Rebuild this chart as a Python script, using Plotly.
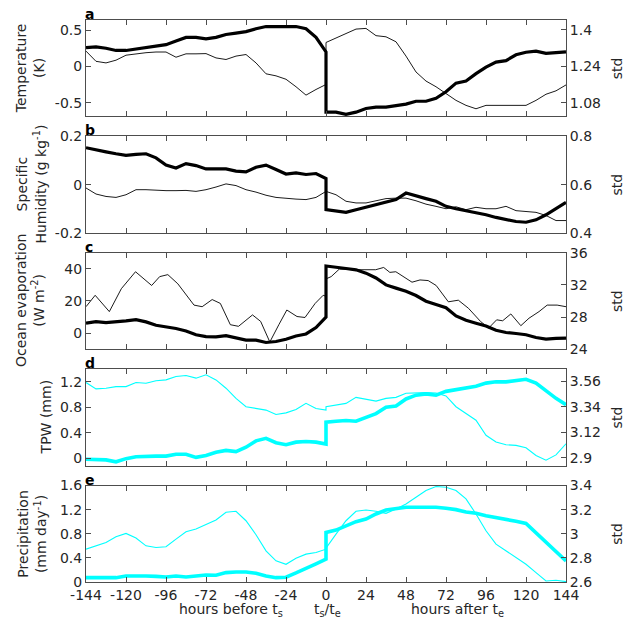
import plotly.graph_objects as go

# ---------------- data ----------------
hours_before = list(range(-144, 1, 6))
hours_after = list(range(0, 145, 6))
hours = hours_before + hours_after

x_tick_vals = [-144, -120, -96, -72, -48, -24, 0, 24, 48, 72, 96, 120, 144]
x_tick_text = ["-144", "-120", "-96", "-72", "-48", "-24", "0", "24", "48", "72", "96", "120", "144"]

# a: temperature
temp_mean = [0.26, 0.27, 0.25, 0.22, 0.22, 0.24, 0.25, 0.27, 0.30, 0.35, 0.40, 0.40, 0.38,
             0.40, 0.44, 0.46, 0.48, 0.52, 0.55, 0.55, 0.55, 0.55, 0.52, 0.40, 0.20] + \
            [-0.63, -0.63, -0.66, -0.63, -0.58, -0.56, -0.56, -0.54, -0.52, -0.48, -0.48, -0.44, -0.35,
             -0.23, -0.20, -0.10, -0.01, 0.06, 0.08, 0.16, 0.195, 0.21, 0.18, 0.19, 0.20]
temp_std = [1.307, 1.262, 1.255, 1.267, 1.289, 1.295, 1.300, 1.303, 1.303, 1.280, 1.295, 1.295, 1.296,
            1.277, 1.270, 1.285, 1.292, 1.255, 1.207, 1.198, 1.183, 1.150, 1.113, 1.138, 1.160] + \
           [1.345, 1.365, 1.382, 1.404, 1.407, 1.375, 1.370, 1.348, 1.285, 1.215, 1.175, 1.150, 1.120,
            1.090, 1.068, 1.053, 1.068, 1.068, 1.071, 1.068, 1.068, 1.090, 1.117, 1.132, 1.158]

# b: specific humidity
q_mean = [0.153, 0.146, 0.136, 0.128, 0.121, 0.125, 0.128, 0.111, 0.081, 0.069, 0.087, 0.079, 0.065,
          0.065, 0.065, 0.056, 0.053, 0.072, 0.081, 0.063, 0.044, 0.049, 0.042, 0.046, 0.025] + \
         [-0.104, -0.111, -0.115, -0.104, -0.094, -0.083, -0.072, -0.062, -0.035, -0.045, -0.058, -0.069, -0.090,
          -0.100, -0.108, -0.114, -0.125, -0.136, -0.146, -0.153, -0.156, -0.146, -0.125, -0.101, -0.074]
q_std = [0.586, 0.561, 0.551, 0.547, 0.558, 0.579, 0.579, 0.576, 0.575, 0.575, 0.576, 0.572, 0.579,
         0.590, 0.603, 0.596, 0.579, 0.569, 0.556, 0.547, 0.542, 0.540, 0.538, 0.547, 0.572] + \
        [0.572, 0.558, 0.531, 0.524, 0.524, 0.533, 0.542, 0.544, 0.544, 0.533, 0.519, 0.510, 0.500,
         0.508, 0.496, 0.506, 0.500, 0.500, 0.510, 0.492, 0.489, 0.485, 0.472, 0.451, 0.451]

# c: ocean evaporation
evap_mean = [6.2, 7.2, 6.6, 7.0, 7.6, 8.4, 7.0, 4.9, 4.1, 2.9, 1.4, -1.0, -2.1,
             -2.3, -1.6, -3.1, -4.3, -4.3, -5.8, -5.2, -3.8, -1.8, -0.5, 3.5, 10.0] + \
            [41.8, 40.8, 40.2, 39.4, 37.3, 34.3, 30.0, 28.0, 26.0, 23.4, 19.9, 17.8, 15.8,
             10.7, 8.0, 6.2, 4.5, 1.8, 0.4, -0.2, -1.0, -2.7, -3.7, -3.3, -3.1]
evap_std_hours = [-144, -138.5, -130, -122.8, -114.3, -104.6, -99.8, -94.9, -88.9, -79.2, -74.3, -68.3,
                  -63.4, -57.4, -52.5, -48.9, -44.1, -39.2, -33.7, -28.3, -23.5, -17.4, -12.6, -6.5,
                  -1.7, 0, 0, 3.1, 8, 17.7, 29.8, 34.6, 38.3, 41.9, 51.6, 56.4, 61.3, 66.1, 73.4,
                  79.4, 85.5, 92.7, 97.6, 102.4, 106, 110.9, 116.9, 121.8, 127.8, 132.7, 138.7, 144]
evap_std = [29.29, 30.71, 28.68, 31.53, 33.64, 31.93, 33.03, 33.28, 32.14, 29.49, 29.29, 30.18,
            29.70, 27.05, 26.85, 27.46, 28.27, 27.46, 24.90, 27.05, 28.88, 28.07, 27.95, 29.70,
            30.71, 30.59, 32.75, 33.03, 33.97, 33.89, 33.89, 34.17, 33.56, 33.64, 32.34, 32.62,
            32.54, 31.93, 29.90, 30.10, 29.09, 27.46, 26.64, 27.66, 27.54, 28.39, 26.93, 27.86,
            28.68, 29.49, 29.49, 29.29]

# d: total precipitable water
tpw_mean = [-0.02, -0.02, -0.03, -0.06, -0.01, 0.02, 0.03, 0.03, 0.03, 0.06, 0.06, 0.01, 0.04,
            0.09, 0.12, 0.10, 0.17, 0.27, 0.31, 0.24, 0.21, 0.25, 0.26, 0.25, 0.22] + \
           [0.565, 0.58, 0.59, 0.58, 0.64, 0.70, 0.80, 0.82, 0.93, 0.99, 1.01, 0.99, 1.05,
            1.08, 1.10, 1.13, 1.18, 1.20, 1.20, 1.22, 1.24, 1.18, 1.06, 0.94, 0.84]
tpw_std = [3.551, 3.496, 3.502, 3.516, 3.516, 3.551, 3.545, 3.566, 3.574, 3.603, 3.612, 3.589, 3.618,
           3.574, 3.502, 3.414, 3.342, 3.327, 3.313, 3.275, 3.289, 3.318, 3.371, 3.327, 3.313] + \
          [3.342, 3.356, 3.371, 3.423, 3.406, 3.391, 3.414, 3.423, 3.458, 3.464, 3.464, 3.461, 3.435,
           3.342, 3.284, 3.225, 3.095, 3.037, 3.013, 3.008, 2.987, 2.920, 2.880, 2.926, 3.022]

# e: precipitation
precip_mean = [0.072, 0.072, 0.060, 0.072, 0.100, 0.105, 0.100, 0.094, 0.083, 0.100, 0.083, 0.100, 0.117,
               0.111, 0.156, 0.167, 0.167, 0.144, 0.100, 0.072, 0.080, 0.150, 0.220, 0.300, 0.378] + \
              [0.822, 0.861, 0.933, 1.000, 1.044, 1.128, 1.194, 1.222, 1.239, 1.239, 1.239, 1.239, 1.222,
               1.200, 1.160, 1.139, 1.100, 1.072, 1.044, 1.006, 0.970, 0.820, 0.650, 0.500, 0.350]
precip_std = [2.872, 2.897, 2.928, 2.975, 3.003, 2.964, 2.900, 2.886, 2.892, 2.956, 3.017, 3.039, 3.075,
              3.114, 3.178, 3.186, 3.108, 2.992, 2.858, 2.775, 2.747, 2.797, 2.831, 2.844, 2.872] + \
             [2.880, 2.997, 3.108, 3.186, 3.197, 3.186, 3.169, 3.206, 3.247, 3.303, 3.358, 3.392, 3.386,
              3.358, 3.289, 3.164, 3.025, 2.914, 2.858, 2.803, 2.747, 2.678, 2.608, 2.614, 2.603]

# axis ticks
left_ticks = [[-0.5, 0, 0.5], [-0.2, 0, 0.2], [0, 20, 40], [0, 0.4, 0.8, 1.2], [0, 0.4, 0.8, 1.2, 1.6]]
left_tick_text = [["-0.5", "0", "0.5"], ["-0.2", "0", "0.2"], ["0", "20", "40"],
                  ["0", "0.4", "0.8", "1.2"], ["0", "0.4", "0.8", "1.2", "1.6"]]
right_ticks = [[1.08, 1.24, 1.4], [0.4, 0.6, 0.8], [24, 28, 32, 36], [2.9, 3.12, 3.34, 3.56],
               [2.6, 2.8, 3.0, 3.2, 3.4]]
right_tick_text = [["1.08", "1.24", "1.4"], ["0.4", "0.6", "0.8"], ["24", "28", "32", "36"],
                   ["2.9", "3.12", "3.34", "3.56"], ["2.6", "2.8", "3", "3.2", "3.4"]]
left_titles = ["Temperature<br>(K)", "Specific<br>Humidity (g kg<sup>-1</sup>)",
               "Ocean evaporation<br>(W m<sup>-2</sup>)", "TPW (mm)",
               "Precipitation<br>(mm day<sup>-1</sup>)"]
panel_letters = ["a", "b", "c", "d", "e"]

# ---------------- layout / style ----------------
W, H = 633, 625
ML, MR, MT, MB = 86, 67, 17, 43
PH = H - MT - MB
PW = W - ML - MR
panel_tops = [17, 134, 251, 368, 485]
panel_h = 97

left_ranges = [[-0.69, 0.64], [-0.2, 0.2], [-10, 50], [-0.12, 1.4], [0, 1.6]]
right_ranges = [[1.019, 1.444], [0.4, 0.8], [24, 36], [2.833, 3.667], [2.6, 3.4]]
colors = ["black", "black", "black", "#00FFFF", "#00FFFF"]
thick_w = [3.2, 3.2, 3.2, 3.6, 3.6]
thin_w = [0.9, 0.9, 0.9, 1.1, 1.1]
title_x_px = [30, 31, 30, 46, 32]

FONT = "DejaVu Sans"
TXT = "#262626"
AX = "#4d4d4d"

def fy(px):
    return (H - MB - px) / PH

def fx(px):
    return (px - ML) / PW

series = [
    (hours, temp_mean, hours, temp_std),
    (hours, q_mean, hours, q_std),
    (hours, evap_mean, evap_std_hours, evap_std),
    (hours, tpw_mean, hours, tpw_std),
    (hours, precip_mean, hours, precip_std),
]

fig = go.Figure()
layout = {}
annotations = []
for i in range(5):
    xname = "x" if i == 0 else f"x{i + 1}"
    yl = 2 * i + 1
    yr = 2 * i + 2
    ylname = "y" if yl == 1 else f"y{yl}"
    yrname = f"y{yr}"
    xm, mean, xs, std = series[i]
    fig.add_trace(go.Scatter(x=xm, y=mean, mode="lines", xaxis=xname, yaxis=ylname,
                             line=dict(color=colors[i], width=thick_w[i]), showlegend=False))
    fig.add_trace(go.Scatter(x=xs, y=std, mode="lines", xaxis=xname, yaxis=yrname,
                             line=dict(color=colors[i], width=thin_w[i]), showlegend=False))
    top = panel_tops[i]
    bot = top + panel_h
    dom = [fy(bot), fy(top)]
    xkey = "xaxis" if i == 0 else f"xaxis{i + 1}"
    layout[xkey] = dict(
        domain=[0, 1], anchor=ylname, range=[-144, 144], tickvals=x_tick_vals,
        ticktext=x_tick_text if i == 4 else [""] * len(x_tick_vals),
        showticklabels=(i == 4), ticks="inside", ticklen=5, tickcolor=AX,
        showline=True, linecolor=AX, linewidth=1, mirror="ticks",
        showgrid=False, zeroline=False,
        tickfont=dict(family=FONT, size=14, color=TXT),
    )
    ylkey = "yaxis" if yl == 1 else f"yaxis{yl}"
    layout[ylkey] = dict(
        domain=dom, anchor=xname, range=left_ranges[i], tickvals=left_ticks[i],
        ticktext=left_tick_text[i], ticks="inside", ticklen=5, tickcolor=AX,
        showline=True, linecolor=AX, linewidth=1, showgrid=False, zeroline=False,
        tickfont=dict(family=FONT, size=14, color=TXT),
    )
    layout[f"yaxis{yr}"] = dict(
        overlaying=ylname, anchor=xname, side="right", range=right_ranges[i],
        tickvals=right_ticks[i], ticktext=right_tick_text[i], ticks="inside", ticklen=5,
        tickcolor=AX, showline=True, linecolor=AX, linewidth=1, showgrid=False, zeroline=False,
        tickfont=dict(family=FONT, size=14, color=TXT),
    )
    mid = (dom[0] + dom[1]) / 2
    annotations.append(dict(text=left_titles[i], x=fx(title_x_px[i]), y=mid, xref="paper", yref="paper",
                            textangle=-90, showarrow=False, xanchor="center", yanchor="middle",
                            font=dict(family=FONT, size=14, color=TXT)))
    annotations.append(dict(text="std", x=fx(617), y=mid, xref="paper", yref="paper",
                            textangle=-90, showarrow=False, xanchor="center", yanchor="middle",
                            font=dict(family=FONT, size=14, color=TXT)))
    annotations.append(dict(text="<b>" + panel_letters[i] + "</b>", x=fx(86), y=dom[1], xref="paper",
                            yref="paper", showarrow=False, xanchor="left", yanchor="bottom",
                            xshift=-3, yshift=-4, font=dict(family=FONT, size=14, color="black")))

for txt, px in [("hours before t<sub>s</sub>", 231), ("t<sub>s</sub>/t<sub>e</sub>", 327),
                ("hours after t<sub>e</sub>", 457)]:
    annotations.append(dict(text=txt, x=fx(px), y=fy(610), xref="paper", yref="paper", showarrow=False,
                            xanchor="center", yanchor="middle",
                            font=dict(family=FONT, size=14, color=TXT)))

fig.update_layout(**layout)
fig.update_layout(
    width=W, height=H, margin=dict(l=ML, r=MR, t=MT, b=MB, pad=0),
    plot_bgcolor="white", paper_bgcolor="white", annotations=annotations,
    font=dict(family=FONT, size=14, color=TXT),
)
fig.write_html("out.html", config={"displayModeBar": False},
               post_script="document.body.style.margin='0';document.body.style.overflow='hidden';")
